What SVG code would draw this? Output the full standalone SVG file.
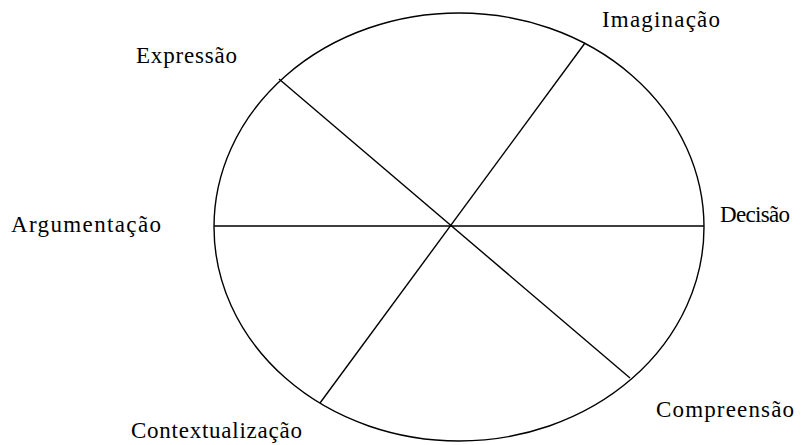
<svg xmlns="http://www.w3.org/2000/svg" width="804" height="445" viewBox="0 0 804 445">
<style>
.shape{fill:none;stroke:#000;stroke-width:1.4}
.spoke{stroke:#000;stroke-width:1.4;fill:none}
.lbl{font-family:"Liberation Serif","Times New Roman",serif;font-size:23px;fill:#000}
</style>
<rect width="804" height="445" fill="#fff"/>
<g id="circle">
<ellipse class="shape" cx="459" cy="227" rx="245" ry="214"/>
</g>
<g id="connectors">
<line class="spoke" x1="214" y1="226" x2="704" y2="226"/>
<line class="spoke" x1="279" y1="79" x2="630" y2="378"/>
<line class="spoke" x1="585" y1="43" x2="320" y2="403"/>
</g>
<g id="expressao"><text class="lbl" x="136" y="63" textLength="101" lengthAdjust="spacing">Expressão</text></g>
<g id="imaginacao"><text class="lbl" x="602" y="27" textLength="118" lengthAdjust="spacing">Imaginação</text></g>
<g id="decisao"><text class="lbl" x="720" y="222" textLength="70" lengthAdjust="spacing">Decisão</text></g>
<g id="argumentacao"><text class="lbl" x="11" y="232" textLength="150" lengthAdjust="spacing">Argumentação</text></g>
<g id="compreensao"><text class="lbl" x="656" y="417" textLength="138" lengthAdjust="spacing">Compreensão</text></g>
<g id="contextualizacao"><text class="lbl" x="131" y="438" textLength="171" lengthAdjust="spacing">Contextualização</text></g>
</svg>
